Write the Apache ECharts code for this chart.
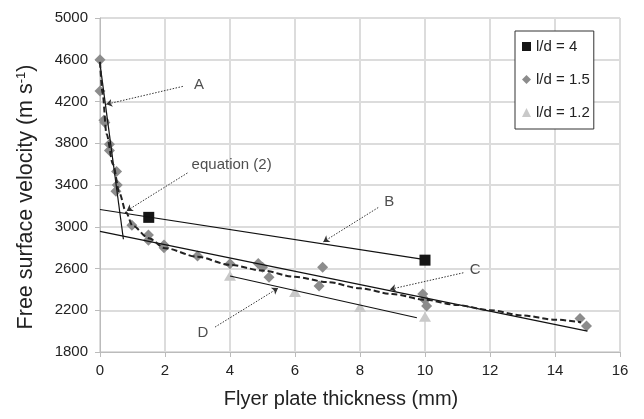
<!DOCTYPE html>
<html>
<head>
<meta charset="utf-8">
<script src="https://cdn.jsdelivr.net/npm/echarts@6/dist/echarts.min.js"></script>
<style>
  html, body { margin: 0; padding: 0; background: #fff; }
  #chart { width: 644px; height: 419px; }
</style>
</head>
<body>
<div id="chart"></div>
<script>
// measured data (mm, m/s)
const ld4 = [[1.5, 3090], [10, 2680]]
const ld15 = [
  [0, 4600], [0, 4300], [0.12, 4020], [0.15, 4000], [0.29, 3790], [0.29, 3730],
  [0.51, 3530], [0.53, 3400], [0.49, 3340], [0.98, 3015], [1.49, 2920], [1.49, 2870],
  [1.97, 2825], [1.97, 2800], [3.0, 2720], [4.0, 2645], [4.87, 2648], [5.0, 2612],
  [5.2, 2515], [6.85, 2612], [6.74, 2432], [9.93, 2355], [10.0, 2298], [10.05, 2240],
  [14.77, 2122], [14.97, 2050]
]
const ld12 = [[4, 2530], [6, 2375], [8, 2232], [10, 2138]]

// fitted lines
const lineA = [[0, 4560], [0.72, 2880]]
const lineB = [[0, 3165], [9.85, 2693]]
const lineC = [[0, 2955], [15, 2000]]
const lineD = [[4, 2528], [9.75, 2128]]
const eq2 = [
  [0, 4580], [0.08, 4280], [0.2, 3890], [0.4, 3600], [0.6, 3320], [0.8, 3140],
  [1, 3010], [1.5, 2890], [2, 2795], [3, 2712], [4, 2635], [5, 2580], [6, 2520],
  [7, 2470], [8, 2410], [9, 2355], [10, 2300], [11, 2250], [12, 2200], [13, 2150],
  [14, 2110], [14.8, 2085]
]

// annotations: label position and arrow (from, to)
const noteNames = ['A', 'equation (2)', 'B', 'C', 'D']
const notePos = [[3.05, 4364], [4.05, 3594], [8.9, 3238], [11.54, 2584], [3.17, 1982]]
const noteArrows = [
  [[2.55, 4345], [0.19, 4173]],
  [[2.69, 3515], [0.82, 3152]],
  [[8.56, 3184], [6.87, 2855]],
  [[11.18, 2559], [8.92, 2400]],
  [[3.54, 2039], [5.48, 2412]]
]

const xTicks = { min: 0, max: 16, interval: 2 }
const yTicks = { min: 1800, max: 5000, interval: 400 }

const font = 'Liberation Sans, Arial, sans-serif'

function fitLine(data, dashed) {
  return {
    type: 'line',
    data: data,
    symbol: 'none',
    silent: true,
    smooth: dashed ? 0.3 : false,
    smoothMonotone: dashed ? 'x' : undefined,
    lineStyle: dashed
      ? { color: '#222', width: 2, type: [6, 3] }
      : { color: '#111', width: 1.2 },
    z: 3
  }
}

const chart = echarts.init(document.getElementById('chart'))
chart.setOption({
  animation: false,
  textStyle: { fontFamily: font },
  grid: { left: 100, right: 24, top: 18, bottom: 67 },
  legend: {
    data: ['l/d = 4', 'l/d = 1.5', 'l/d = 1.2'],
    orient: 'vertical',
    left: 515,
    top: 31,
    padding: [8, 4, 9, 7],
    itemGap: 18,
    itemWidth: 9,
    itemHeight: 9,
    borderColor: '#333',
    borderWidth: 1,
    backgroundColor: '#fff',
    textStyle: { fontSize: 15, color: '#222', fontFamily: font }
  },
  xAxis: {
    type: 'value',
    min: xTicks.min,
    max: xTicks.max,
    interval: xTicks.interval,
    name: 'Flyer plate thickness (mm)',
    nameLocation: 'middle',
    nameGap: 37,
    nameTextStyle: { fontSize: 20, color: '#222', padding: [0, 38, 0, 0] },
    axisLine: { lineStyle: { color: '#bbb' } },
    axisTick: { show: true, length: 5, lineStyle: { color: '#bbb' } },
    axisLabel: { fontSize: 15, color: '#222', margin: 11 },
    splitLine: { lineStyle: { color: '#dcdcdc', width: 2 } }
  },
  yAxis: {
    type: 'value',
    min: yTicks.min,
    max: yTicks.max,
    interval: yTicks.interval,
    name: 'Free surface velocity (m s{sup|-1})',
    nameLocation: 'middle',
    nameGap: 63,
    nameTextStyle: {
      fontSize: 21.5,
      color: '#222',
      padding: [0, 24, 0, 0],
      rich: {
        sup: { fontSize: 13, color: '#222', verticalAlign: 'top', padding: [0, 0, 7, 0] }
      }
    },
    axisLine: { show: true, lineStyle: { color: '#bbb' } },
    axisTick: { show: true, length: 5, lineStyle: { color: '#bbb' } },
    axisLabel: { fontSize: 15, color: '#222', margin: 12, formatter: v => String(v) },
    splitLine: { lineStyle: { color: '#dcdcdc', width: 2 } }
  },
  series: [
    {
      name: 'l/d = 1.5',
      type: 'scatter',
      data: ld15,
      symbol: 'diamond',
      symbolSize: 11,
      itemStyle: { color: '#8c8c8c', opacity: 1 },
      z: 2
    },
    {
      name: 'l/d = 1.2',
      type: 'scatter',
      data: ld12,
      symbol: 'triangle',
      symbolSize: [12, 10],
      itemStyle: { color: '#c9c9c9', opacity: 1 },
      z: 2
    },
    {
      name: 'l/d = 4',
      type: 'scatter',
      data: ld4,
      symbol: 'rect',
      symbolSize: 11,
      itemStyle: { color: '#151515', opacity: 1 },
      z: 2
    },
    fitLine(lineA),
    fitLine(lineB),
    fitLine(lineC),
    fitLine(lineD),
    fitLine(eq2, true),
    {
      type: 'lines',
      coordinateSystem: 'cartesian2d',
      silent: true,
      symbol: ['none', 'arrow'],
      symbolSize: 6,
      lineStyle: { color: '#333', width: 1, type: [1.5, 1.5], opacity: 1 },
      data: noteArrows.map(a => ({ coords: a })),
      z: 4
    },
    {
      type: 'scatter',
      silent: true,
      symbolSize: 0,
      data: notePos.map((p, i) => ({ value: p, name: noteNames[i] })),
      label: {
        show: true,
        position: 'inside',
        formatter: '{b}',
        fontSize: 15,
        color: '#222',
        fontFamily: font
      },
      z: 5
    }
  ]
})
</script>
</body>
</html>
